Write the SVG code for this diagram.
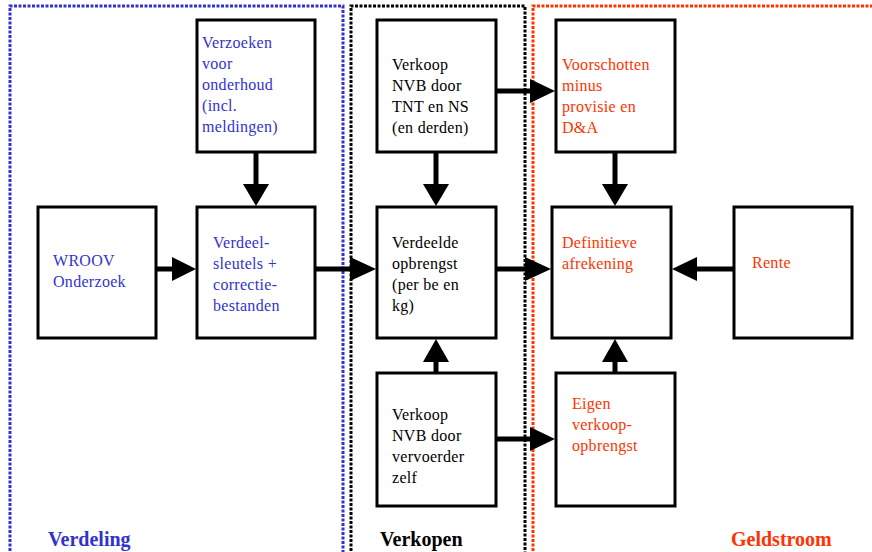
<svg xmlns="http://www.w3.org/2000/svg" width="872" height="552" viewBox="0 0 872 552">
<style>
  .box { fill: #ffffff; stroke: #000000; stroke-width: 3; }
  .t { font-family: "Liberation Serif", "Times New Roman", serif; font-size: 16px; letter-spacing: 0.3px; }
  .blue { fill: #3333cc; }
  .red { fill: #ff3300; }
  .black { fill: #000000; }
  .lbl { font-family: "Liberation Serif", "Times New Roman", serif; font-size: 20px; font-weight: bold; }
  .frame { fill: none; stroke-width: 3; stroke-dasharray: 3 1.5; }
  .shaft { stroke: #000000; stroke-width: 5; fill: none; }
  .head { fill: #000000; }
</style>

<g id="frames">
  <path class="frame" stroke="#3333cc" d="M10,560 V6 H343 V560"/>
  <path class="frame" stroke="#000000" d="M351,560 V6 H525 V560"/>
  <path class="frame" stroke="#ff3300" d="M533,560 V6 H880"/>
</g>

<g id="connectors">
  <!-- Verzoeken -> Verdeelsleutels -->
  <line class="shaft" x1="256" y1="152" x2="256" y2="186"/>
  <polygon class="head" points="243,184 269,184 256,206"/>
  <!-- WROOV -> Verdeelsleutels -->
  <line class="shaft" x1="156" y1="269" x2="174" y2="269"/>
  <polygon class="head" points="172,257 172,281 196,269"/>
  <!-- Verdeelsleutels -> Verdeelde -->
  <line class="shaft" x1="316" y1="269" x2="352" y2="269"/>
  <polygon class="head" points="350,257 350,281 376,269"/>
  <!-- Verkoop TNT -> Verdeelde -->
  <line class="shaft" x1="436" y1="152" x2="436" y2="186"/>
  <polygon class="head" points="423,184 449,184 436,206"/>
  <!-- Verkoop zelf -> Verdeelde -->
  <line class="shaft" x1="436" y1="373" x2="436" y2="360"/>
  <polygon class="head" points="423,362 449,362 436,339"/>
  <!-- Verdeelde -> Definitieve -->
  <line class="shaft" x1="496" y1="269" x2="527" y2="269"/>
  <polygon class="head" points="525,257 525,281 551,269"/>
  <!-- Verkoop TNT -> Voorschotten -->
  <line class="shaft" x1="496" y1="91" x2="532" y2="91"/>
  <polygon class="head" points="530,79 530,103 555,91"/>
  <!-- Verkoop zelf -> Eigen -->
  <line class="shaft" x1="496" y1="439" x2="532" y2="439"/>
  <polygon class="head" points="530,427 530,451 555,439"/>
  <!-- Voorschotten -> Definitieve -->
  <line class="shaft" x1="615" y1="152" x2="615" y2="186"/>
  <polygon class="head" points="602,184 628,184 615,206"/>
  <!-- Eigen -> Definitieve -->
  <line class="shaft" x1="615" y1="373" x2="615" y2="360"/>
  <polygon class="head" points="602,362 628,362 615,339"/>
  <!-- Rente -> Definitieve -->
  <line class="shaft" x1="734" y1="269" x2="694" y2="269"/>
  <polygon class="head" points="697,257 697,281 672,269"/>
</g>

<g id="verzoeken">
  <rect class="box" x="197" y="20" width="118" height="132"/>
  <text class="t blue" x="202"><tspan x="202" y="48">Verzoeken</tspan><tspan x="202" y="69">voor</tspan><tspan x="202" y="90">onderhoud</tspan><tspan x="202" y="111">(incl.</tspan><tspan x="202" y="132">meldingen)</tspan></text>
</g>

<g id="verkoop-tnt">
  <rect class="box" x="377" y="20" width="119" height="132"/>
  <text class="t black"><tspan x="392" y="70">Verkoop</tspan><tspan x="392" y="91">NVB door</tspan><tspan x="392" y="112">TNT en NS</tspan><tspan x="392" y="133">(en derden)</tspan></text>
</g>

<g id="voorschotten">
  <rect class="box" x="556" y="20" width="119" height="132"/>
  <text class="t red"><tspan x="562" y="70">Voorschotten</tspan><tspan x="562" y="91">minus</tspan><tspan x="562" y="112">provisie en</tspan><tspan x="562" y="133">D&amp;A</tspan></text>
</g>

<g id="wroov">
  <rect class="box" x="38" y="207" width="118" height="131"/>
  <text class="t blue"><tspan x="53" y="266">WROOV</tspan><tspan x="53" y="287">Onderzoek</tspan></text>
</g>

<g id="verdeelsleutels">
  <rect class="box" x="197" y="207" width="118" height="131"/>
  <text class="t blue"><tspan x="213" y="248">Verdeel-</tspan><tspan x="213" y="269">sleutels +</tspan><tspan x="213" y="290">correctie-</tspan><tspan x="213" y="311">bestanden</tspan></text>
</g>

<g id="verdeelde">
  <rect class="box" x="377" y="207" width="119" height="131"/>
  <text class="t black"><tspan x="392" y="248">Verdeelde</tspan><tspan x="392" y="269">opbrengst</tspan><tspan x="392" y="290">(per be en</tspan><tspan x="392" y="311">kg)</tspan></text>
</g>

<g id="definitieve">
  <rect class="box" x="552" y="207" width="119" height="131"/>
  <text class="t red"><tspan x="562" y="248">Definitieve</tspan><tspan x="562" y="269">afrekening</tspan></text>
</g>

<g id="rente">
  <rect class="box" x="734" y="207" width="118" height="131"/>
  <text class="t red" x="752" y="268">Rente</text>
</g>

<g id="verkoop-zelf">
  <rect class="box" x="377" y="373" width="119" height="133"/>
  <text class="t black"><tspan x="392" y="420">Verkoop</tspan><tspan x="392" y="441">NVB door</tspan><tspan x="392" y="462">vervoerder</tspan><tspan x="392" y="483">zelf</tspan></text>
</g>

<g id="eigen">
  <rect class="box" x="556" y="373" width="119" height="133"/>
  <text class="t red"><tspan x="572" y="409">Eigen</tspan><tspan x="572" y="430">verkoop-</tspan><tspan x="572" y="451">opbrengst</tspan></text>
</g>

<g id="labels">
  <text class="lbl blue" x="48" y="546">Verdeling</text>
  <text class="lbl black" x="380" y="546">Verkopen</text>
  <text class="lbl red" x="731" y="546">Geldstroom</text>
</g>
</svg>
